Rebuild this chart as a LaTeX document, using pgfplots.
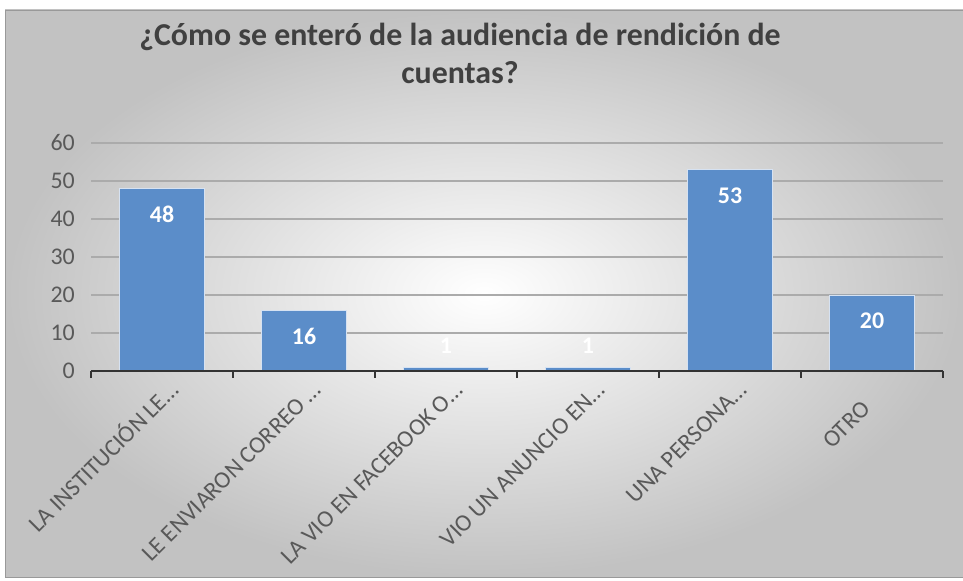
\documentclass[border=0pt]{standalone}
\usepackage{pgfplots}
\pgfplotsset{compat=1.18}
\usepackage{fontspec}
\setmainfont{Carlito}
\definecolor{barblue}{RGB}{91,141,201}
\definecolor{ticktxt}{RGB}{89,89,89}
\begin{document}
\begin{tikzpicture}[x=1bp,y=1bp]
\useasboundingbox (0,0) rectangle (963,581);
\shade[inner color=white, outer color=black!24] (5,4) rectangle (963,571);
\draw[black!40, line width=0.8bp] (5,4) rectangle (963,571);
\node[font=\fontsize{32}{39}\selectfont\bfseries, text=black!75, align=center, anchor=base] at (460,497) {¿Cómo se enteró de la audiencia de rendición de\\cuentas?};
\begin{axis}[
  at={(91bp,210bp)}, anchor=south west,
  scale only axis, width=852bp, height=228bp,
  xmin=-0.5, xmax=5.5, ymin=0, ymax=60,
  axis line style={draw=none},
  ytick={0,10,...,60},
  ymajorgrids,
  grid style={color=black!33, line width=1.6bp},
  yticklabel style={font=\fontsize{24}{26}\selectfont, text=ticktxt, inner sep=0pt, xshift=-16bp},
  /pgf/number format/assume math mode=true,
  xtick={0,...,5},
  xticklabels={LA INSTITUCIÓN LE…, LE ENVIARON CORREO …, LA VIO EN FACEBOOK O…, VIO UN ANUNCIO EN…, UNA PERSONA…, OTRO\hspace*{1.1em}},
  tick style={draw=black!80, line width=2bp},
  xtick pos=bottom,
  ytick pos=left,
  tick align=outside,
  major tick length=0pt,
  extra x ticks={-0.5,0.5,1.5,2.5,3.5,4.5,5.5},
  extra x tick labels={},
  extra x tick style={major tick length=7bp},
  xticklabel style={font=\fontsize{24}{26}\selectfont, text=ticktxt, inner sep=0pt, xshift=18bp, yshift=-21bp, rotate=45, anchor=base east},
  bar width=0.6,
  clip=false,
]
\addplot[ybar, fill=barblue, draw=white!75!barblue, line width=0.6bp,
  visualization depends on={y \as \rawy},
  nodes near coords,
  every node near coord/.append style={font=\fontsize{24}{26}\selectfont\bfseries, text=white, anchor=center, yshift={\rawy>5 ? -26 : 22}}]
  coordinates {(0,48) (1,16) (2,1) (3,1) (4,53) (5,20)};
\draw[black!80, line width=2.6bp] (axis cs:-0.5,0) -- (axis cs:5.5,0);
\end{axis}
\end{tikzpicture}
\end{document}
